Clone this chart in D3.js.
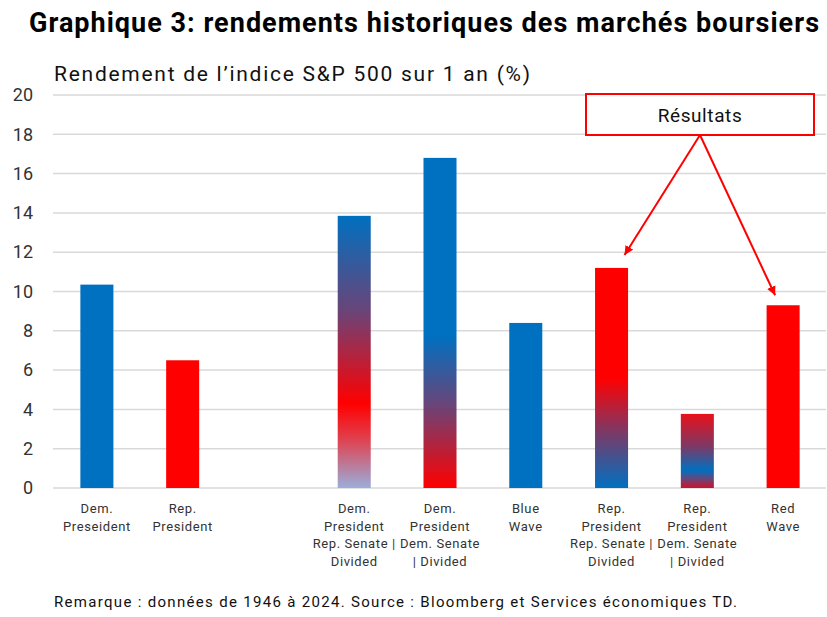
<!DOCTYPE html>
<html><head><meta charset="utf-8">
<script src="https://cdn.jsdelivr.net/npm/d3@7"></script>
<style>body{margin:0;background:#fff}svg{display:block}</style>
</head><body>
<svg id="c" width="827" height="617"></svg>
<script>
const categories = ["Dem. Preseident", "Rep. President", "", "Dem. President Rep. Senate | Divided", "Dem. President Dem. Senate | Divided", "Blue Wave", "Rep. President Rep. Senate | Divided", "Rep. President Dem. Senate | Divided", "Red Wave"];
const labelLines = [
  ["Dem.", "Preseident"],
  ["Rep.", "President"],
  [],
  ["Dem.", "President", "Rep. Senate |", "Divided"],
  ["Dem.", "President", "Dem. Senate", "| Divided"],
  ["Blue", "Wave"],
  ["Rep.", "President", "Rep. Senate |", "Divided"],
  ["Rep.", "President", "Dem. Senate", "| Divided"],
  ["Red", "Wave"]
];
const values = [10.35, 6.5, null, 13.85, 16.8, 8.4, 11.2, 3.77, 9.3];
const fills = ["blue", "red", null, "g1", "g2", "blue", "g3", "g4", "red"];
const yTicks = [0, 2, 4, 6, 8, 10, 12, 14, 16, 18, 20];
const titleText = "Graphique 3: rendements historiques des marchés boursiers";
const subtitleText = "Rendement de l’indice S&P 500 sur 1 an (%)";
const noteText = "Remarque : données de 1946 à 2024. Source :  Bloomberg et Services économiques TD.";
const calloutText = "Résultats";

const BLUE = "#0070C0", RED = "#FF0000";
const svg = d3.select("#c");
const x = d3.scaleBand().domain(d3.range(categories.length)).range([54, 826]).paddingInner(0.615).paddingOuter(0.3075);
const y = d3.scaleLinear().domain([0, 20]).range([488, 95]);

const defs = svg.append("defs");
const grads = {
  g1: [[0, BLUE], [0.35, "#6A4478"], [0.69, RED], [0.82, "#E0404E"], [1, "#9BAEDB"]],
  g2: [[0, BLUE], [0.54, BLUE], [0.75, "#6A4478"], [1, RED]],
  g3: [[0, RED], [0.5, RED], [0.75, "#7A3A68"], [1, BLUE]],
  g4: [[0, "#E8101A"], [0.45, "#7A3A68"], [0.76, BLUE], [0.88, "#6A4478"], [1, "#D0102A"]]
};
Object.entries(grads).forEach(([id, stops]) => {
  const g = defs.append("linearGradient").attr("id", id).attr("x1", 0).attr("x2", 0).attr("y1", 0).attr("y2", 1);
  stops.forEach(s => g.append("stop").attr("offset", s[0]).attr("stop-color", s[1]));
});
const mk = defs.append("marker").attr("id", "ah").attr("viewBox", "0 0 10 10").attr("refX", 10).attr("refY", 5)
  .attr("markerWidth", 9).attr("markerHeight", 9).attr("markerUnits", "userSpaceOnUse").attr("orient", "auto");
mk.append("path").attr("d", "M0,0 L10,5 L0,10 Z").attr("fill", RED);

// title
svg.append("text").attr("x", 29).attr("y", 32).text(titleText)
  .attr("font-family", "Roboto, sans-serif").attr("font-weight", 700).attr("font-size", 27)
  .attr("textLength", 790).attr("lengthAdjust", "spacing").attr("fill", "#000");
svg.append("text").attr("x", 54).attr("y", 81).text(subtitleText)
  .attr("font-family", "Roboto, sans-serif").attr("font-size", 21)
  .attr("textLength", 476).attr("lengthAdjust", "spacing").attr("fill", "#111");

// grid
svg.append("g").selectAll("line").data(yTicks).join("line")
  .attr("x1", 53).attr("x2", 826).attr("y1", d => y(d)).attr("y2", d => y(d))
  .attr("stroke", "#d9d9d9").attr("stroke-width", 1.5);

// y axis labels
const ya = svg.append("g").attr("transform", "translate(33,0)").call(d3.axisLeft(y).tickValues(yTicks).tickSize(0).tickPadding(0));
ya.select(".domain").remove();
ya.selectAll("text").attr("font-family", "Roboto, sans-serif").attr("font-size", 18).attr("fill", "#333");

// bars
svg.append("g").selectAll("rect").data(values.map((v, i) => ({v, i})).filter(d => d.v != null)).join("rect")
  .attr("x", d => x(d.i)).attr("width", x.bandwidth())
  .attr("y", d => y(d.v)).attr("height", d => y(0) - y(d.v))
  .attr("fill", d => fills[d.i] === "blue" ? BLUE : fills[d.i] === "red" ? RED : `url(#${fills[d.i]})`);

// x labels
const xl = svg.append("g");
labelLines.forEach((lines, i) => {
  const t = xl.append("text").attr("text-anchor", "middle").attr("font-family", "Roboto, sans-serif")
    .attr("font-size", 13).attr("letter-spacing", 0.6).attr("fill", "#333");
  lines.forEach((l, j) => t.append("tspan").attr("x", x(i) + x.bandwidth() / 2).attr("y", 513 + j * 17.7).text(l));
});

// callout
svg.append("rect").attr("x", 586).attr("y", 94).attr("width", 228).attr("height", 41)
  .attr("fill", "#fff").attr("stroke", RED).attr("stroke-width", 2);
svg.append("text").attr("x", 700).attr("y", 122).attr("text-anchor", "middle").text(calloutText)
  .attr("font-family", "Roboto, sans-serif").attr("font-size", 19).attr("letter-spacing", 0.6).attr("fill", "#111");
const cx = 700, cy = 135;
[[x(6) + x.bandwidth() / 2 + 13, y(11.2) - 13], [x(8) + x.bandwidth() / 2 - 8, y(9.3) - 10]].forEach(p => {
  svg.append("line").attr("x1", cx).attr("y1", cy).attr("x2", p[0]).attr("y2", p[1])
    .attr("stroke", RED).attr("stroke-width", 2).attr("marker-end", "url(#ah)");
});

svg.append("text").attr("x", 54).attr("y", 607).text(noteText)
  .attr("font-family", "Roboto, sans-serif").attr("font-size", 15)
  .attr("textLength", 683).attr("lengthAdjust", "spacing").attr("fill", "#111");
</script>
</body></html>
